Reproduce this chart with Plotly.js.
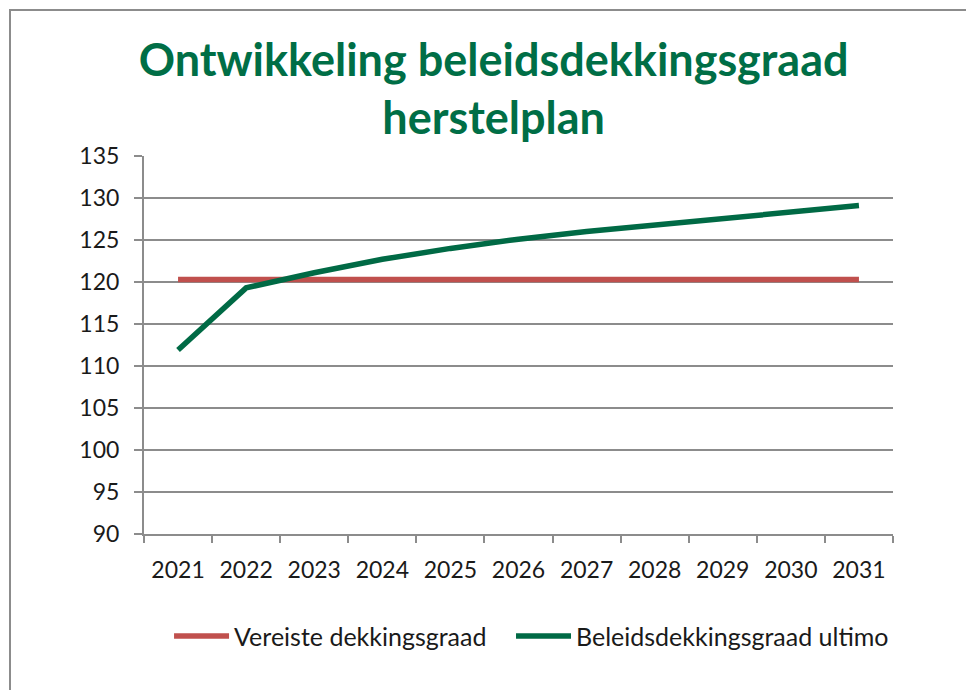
<!DOCTYPE html>
<html>
<head>
<meta charset="utf-8">
<script src="https://cdn.plot.ly/plotly-3.0.1.min.js"></script>
<style>
  html, body { margin: 0; padding: 0; background: #ffffff; overflow: hidden; }
  #frame { position: absolute; left: 9px; top: 9px; width: 1100px; height: 900px;
           border-top: 2px solid #8c8c8c; border-left: 2px solid #8c8c8c; }
  #chart { position: absolute; left: 0; top: 0; width: 966px; height: 690px; }
</style>
</head>
<body>
<div id="frame"></div>
<div id="chart"></div>
<script>
const years = ["2021","2022","2023","2024","2025","2026","2027","2028","2029","2030","2031"];
const vereiste = [120.3,120.3,120.3,120.3,120.3,120.3,120.3,120.3,120.3,120.3,120.3];
const beleids = [111.9,119.3,121.1,122.7,124.0,125.1,126.0,126.8,127.6,128.3,129.1];
const yTicks = [90,95,100,105,110,115,120,125,130,135];

const FONT = "Lato, Carlito, 'Open Sans', sans-serif";
const GRID = "#8c8c8c";

const traces = [
  { x: years, y: vereiste, type: "scatter", mode: "lines", name: "Vereiste dekkingsgraad",
    line: { color: "#C0504D", width: 5.5 }, legend: "legend" },
  { x: years, y: beleids, type: "scatter", mode: "lines", name: "Beleidsdekkingsgraad ultimo",
    line: { color: "#006A45", width: 5.5 }, legend: "legend2" }
];

const legendBase = {
  orientation: "h", xref: "container", xanchor: "left",
  yref: "container", y: 0.078, yanchor: "middle",
  font: { family: FONT, size: 25, color: "#1a1a1a" },
  bgcolor: "rgba(0,0,0,0)", itemwidth: 55
};

const layout = {
  width: 966, height: 690,
  paper_bgcolor: "rgba(0,0,0,0)", plot_bgcolor: "rgba(0,0,0,0)",
  margin: { l: 144, r: 73, t: 156, b: 156 },
  font: { family: FONT, color: "#1a1a1a", size: 23 },
  title: {
    text: "Ontwikkeling beleidsdekkingsgraad<br>herstelplan",
    font: { family: FONT, size: 45, color: "#006E46", weight: "bold" },
    xref: "container", x: 0.511, xanchor: "center",
    yref: "container", y: 0.89, yanchor: "middle"
  },
  xaxis: {
    type: "category", range: [-0.5, 10.5],
    showline: true, linecolor: GRID, linewidth: 2,
    showgrid: false, zeroline: false,
    ticks: "outside", tickson: "boundaries", ticklen: 7, tickwidth: 2, tickcolor: GRID,
    ticklabelstandoff: 14,
    tickfont: { family: FONT, size: 23, color: "#1a1a1a" },
    fixedrange: true
  },
  yaxis: {
    range: [90, 135], tickvals: yTicks, ticktext: yTicks.map(String),
    showline: true, linecolor: GRID, linewidth: 2,
    showgrid: true, gridcolor: GRID, gridwidth: 2, zeroline: false,
    ticks: "outside", ticklen: 8, tickwidth: 2, tickcolor: GRID,
    ticklabelstandoff: 10,
    tickfont: { family: FONT, size: 23, color: "#1a1a1a" },
    fixedrange: true
  },
  showlegend: true,
  legend: Object.assign({}, legendBase, { x: 0.175 }),
  legend2: Object.assign({}, legendBase, { x: 0.529 })
};

Plotly.newPlot("chart", traces, layout, { displayModeBar: false, staticPlot: true });
</script>
</body>
</html>
